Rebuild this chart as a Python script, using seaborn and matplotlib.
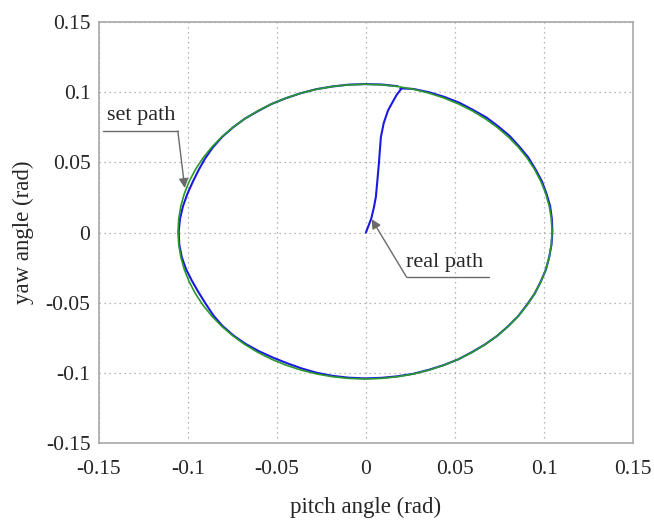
import numpy as np
import pandas as pd
import matplotlib
matplotlib.use("Agg")
import matplotlib.pyplot as plt
import seaborn as sns

# ---- data ----
# set path: ideal circle (polar samples)
set_center = (-0.0005, 0.0007)
set_angles_deg = list(range(0, 365, 5))
set_radius = 0.105

# real path: radial start segment (x, y)
real_start_x = [0.0, 0.0015, 0.003, 0.0045, 0.0056, 0.0065, 0.0073, 0.0078,
                0.0084, 0.0100, 0.0124, 0.0150, 0.0172, 0.0200]
real_start_y = [0.0, 0.005, 0.010, 0.018, 0.0255, 0.038, 0.0495, 0.058,
                0.068, 0.078, 0.087, 0.093, 0.098, 0.1027]
# real path: loop around the circle (polar, clockwise from the top)
real_loop_angles_deg = [79] + list(range(75, -285, -5))
real_loop_radii = [0.1040, 0.1052, 0.1056, 0.1058, 0.1060, 0.1058, 0.1061,
                   0.1059, 0.1060, 0.1057, 0.1058, 0.1055, 0.1056, 0.1054,
                   0.1055, 0.1053, 0.1052, 0.1051, 0.1050, 0.1051, 0.1049,
                   0.1050, 0.1048, 0.1050, 0.1049, 0.1050, 0.1049, 0.1048,
                   0.1050, 0.1049, 0.1048, 0.1049, 0.1047, 0.1046, 0.1046,
                   0.1045, 0.1044, 0.1042, 0.1038, 0.1035, 0.1036, 0.1040,
                   0.1044, 0.1046, 0.1045, 0.1040, 0.1032, 0.1030, 0.1033,
                   0.1040, 0.1045, 0.1047, 0.1046, 0.1043, 0.1038, 0.1033,
                   0.1030, 0.1032, 0.1038, 0.1044, 0.1048, 0.1049, 0.1050,
                   0.1048, 0.1050, 0.1049, 0.1050, 0.1051, 0.1050, 0.1051,
                   0.1051, 0.1052, 0.1052]

ticks = [-0.15, -0.1, -0.05, 0, 0.05, 0.1, 0.15]
tick_labels = ["-0.15", "-0.1", "-0.05", "0", "0.05", "0.1", "0.15"]

# ---- build tables ----
a = np.deg2rad(set_angles_deg)
set_df = pd.DataFrame({"x": set_center[0] + set_radius * np.cos(a),
                       "y": set_center[1] + set_radius * np.sin(a)})
n = min(len(real_loop_angles_deg), len(real_loop_radii))
b = np.deg2rad(real_loop_angles_deg[:n])
r = np.array(real_loop_radii[:n])
loop_x = set_center[0] + r * np.cos(b)
loop_y = set_center[1] + r * np.sin(b)
real_df = pd.DataFrame({"x": np.concatenate([real_start_x, loop_x]),
                        "y": np.concatenate([real_start_y, loop_y])})

# ---- plot ----
sns.set_style("white")
plt.rcParams["font.family"] = ["Liberation Serif", "DejaVu Serif"]

fig = plt.figure(figsize=(6.54, 5.25), dpi=100)
ax = fig.add_axes([0.151, 0.156, 0.817, 0.802])

sns.lineplot(data=real_df, x="x", y="y", sort=False, estimator=None,
             color="#1a1ae0", linewidth=1.5, ax=ax)
sns.lineplot(data=set_df, x="x", y="y", sort=False, estimator=None,
             color="#2a9a2a", linewidth=1.2, ax=ax)

ax.set_xlim(-0.15, 0.15)
ax.set_ylim(-0.15, 0.15)
ax.set_xticks(ticks)
ax.set_yticks(ticks)
ax.set_xticklabels(tick_labels)
ax.set_yticklabels(tick_labels)
ax.grid(True, linestyle=(0, (1, 3)), color="#a0a0a0", linewidth=0.9)
for s in ax.spines.values():
    s.set_color("#a8a8a8")
    s.set_linewidth(1.2)
ax.tick_params(direction="in", length=3, width=0.8, color="#888888",
               labelsize=15.5)
ax.tick_params(axis="x", pad=12)
ax.tick_params(axis="y", pad=6)

ax.set_xlabel("pitch angle (rad)", fontsize=16.5, labelpad=13)
ax.set_ylabel("yaw angle (rad)", fontsize=16.5, labelpad=8)

# annotations
ann_kw = dict(arrowprops=dict(arrowstyle="-|>", color="#6a6a6a", lw=1.0,
                              mutation_scale=14, shrinkA=0, shrinkB=0,
                              facecolor="#303030"))
ax.plot([-0.1478, -0.1056], [0.0723, 0.0723], color="#6a6a6a", lw=1.0)
ax.annotate("", xy=(-0.1017, 0.0317), xytext=(-0.1056, 0.0723), **ann_kw)
ax.text(-0.1264, 0.0835, "set path", fontsize=16, ha="center", va="center")

ax.plot([0.0229, 0.0691], [-0.0319, -0.0319], color="#6a6a6a", lw=1.0)
ax.annotate("", xy=(0.0032, 0.0096), xytext=(0.0229, -0.0319), **ann_kw)
ax.text(0.0441, -0.0215, "real path", fontsize=16, ha="center", va="center")

fig.savefig("out.png", dpi=100)
